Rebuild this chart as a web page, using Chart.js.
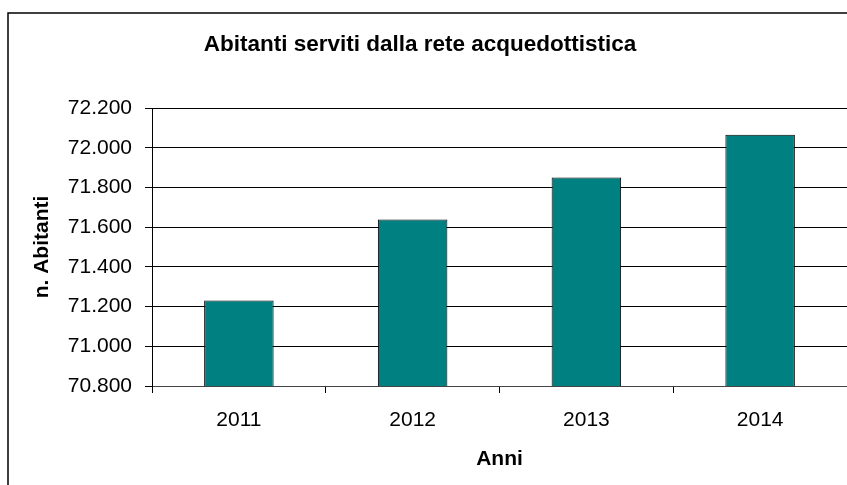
<!DOCTYPE html>
<html>
<head>
<meta charset="utf-8">
<script src="https://cdn.jsdelivr.net/npm/chart.js@4/dist/chart.umd.min.js"></script>
<style>
  html, body { margin: 0; padding: 0; background: #fff; }
  #wrap { width: 847px; height: 485px; position: relative; }
</style>
</head>
<body>
<div id="wrap"><canvas id="c" width="847" height="485"></canvas></div>
<script>
const categories = ['2011', '2012', '2013', '2014'];
const abitanti = [71230, 71638, 71850, 72065];
const yMin = 70800;
const yMax = 72200;
const yStep = 200;
const chartTitle = 'Abitanti serviti dalla rete acquedottistica';
const xTitle = 'Anni';
const yTitle = 'n. Abitanti';

const FONT = "'Liberation Sans', Arial, Helvetica, sans-serif";

function fmt(v) {
  return String(Math.round(v)).replace(/\B(?=(\d{3})+(?!\d))/g, '.');
}

const frameAndTitle = {
  id: 'frameAndTitle',
  beforeDraw(chart) {
    const ctx = chart.ctx;
    ctx.save();
    ctx.fillStyle = '#fff';
    ctx.fillRect(0, 0, chart.width, chart.height);
    ctx.strokeStyle = '#000';
    ctx.lineWidth = 1.5;
    ctx.beginPath();
    ctx.moveTo(8, chart.height + 5);
    ctx.lineTo(8, 13);
    ctx.lineTo(chart.width + 5, 13);
    ctx.stroke();
    ctx.restore();
  },
  afterDraw(chart) {
    const ctx = chart.ctx;
    ctx.save();
    ctx.fillStyle = '#000';
    ctx.font = "bold 22.5px " + FONT;
    ctx.textAlign = 'center';
    ctx.textBaseline = 'middle';
    ctx.fillText(chartTitle, 420, 45);
    ctx.restore();
  }
};

new Chart(document.getElementById('c'), {
  type: 'bar',
  data: {
    labels: categories,
    datasets: [{
      data: abitanti,
      backgroundColor: '#008080',
      borderColor: '#000',
      borderWidth: 1,
      borderSkipped: false,
      barPercentage: 0.4,
      categoryPercentage: 1.0
    }]
  },
  options: {
    responsive: false,
    animation: false,
    devicePixelRatio: 1,
    layout: { padding: { top: 108, right: 0, bottom: 0, left: 0 } },
    plugins: {
      legend: { display: false },
      title: { display: false },
      tooltip: { enabled: false }
    },
    scales: {
      x: {
        offset: true,
        grid: {
          offset: true,
          drawOnChartArea: false,
          drawTicks: true,
          tickLength: 7,
          color: '#000'
        },
        border: { display: true, color: '#444', width: 1 },
        ticks: {
          color: '#000',
          font: { family: FONT, size: 21 },
          padding: 15
        },
        title: {
          display: true,
          text: xTitle,
          color: '#000',
          font: { family: FONT, size: 21, weight: 'bold' },
          padding: { top: 0, bottom: 13 }
        },
        afterFit(scale) { scale.height = 99; }
      },
      y: {
        min: yMin,
        max: yMax,
        ticks: {
          stepSize: yStep,
          color: '#000',
          font: { family: FONT, size: 21 },
          padding: 13,
          callback: (v) => fmt(v)
        },
        grid: {
          color: '#000',
          lineWidth: 1,
          drawTicks: true,
          tickLength: 7
        },
        border: { display: true, color: '#000', width: 1 },
        title: {
          display: true,
          text: yTitle,
          color: '#000',
          font: { family: FONT, size: 21, weight: 'bold' },
          padding: { top: 30, bottom: 0 }
        },
        afterFit(scale) { scale.width = 152; }
      }
    }
  },
  plugins: [frameAndTitle]
});
</script>
</body>
</html>
